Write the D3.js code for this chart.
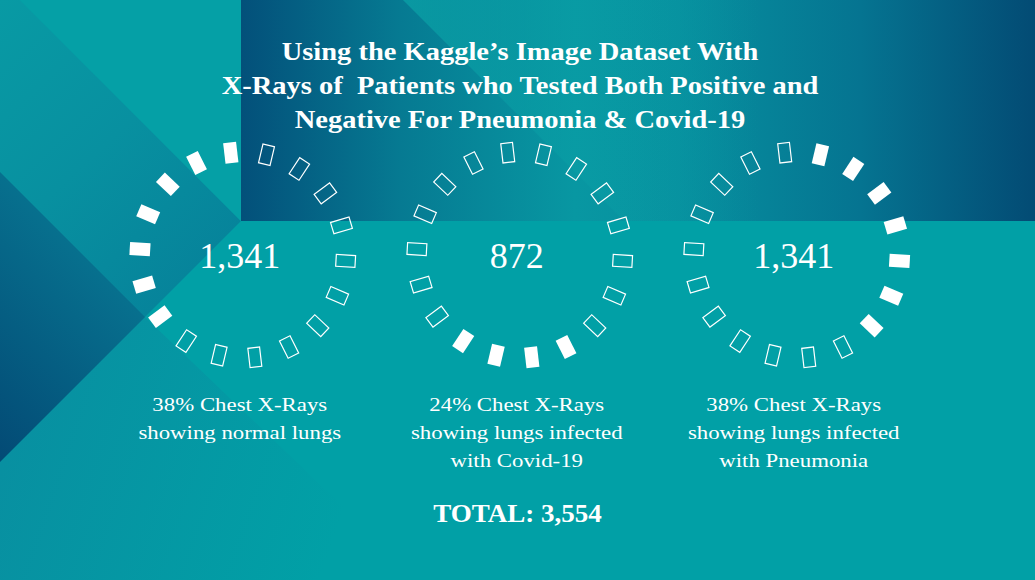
<!DOCTYPE html>
<html><head><meta charset="utf-8">
<script src="https://cdn.jsdelivr.net/npm/d3@7"></script>
<style>html,body{margin:0;padding:0;background:#01a0a6;overflow:hidden;} svg{display:block;} text{white-space:pre;}</style>
</head><body>
<svg id="chart" width="1035" height="580"></svg>
<script>
// ---- data ----
const titleLines = ["Using the Kaggle\u2019s Image Dataset With", "X-Rays of  Patients who Tested Both Positive and", "Negative For Pneumonia & Covid-19"];
const categories = ["Normal", "Covid-19", "Pneumonia"];
const counts = [1341, 872, 1341];
const percents = [38, 24, 38];
const captions = [
  ["38% Chest X-Rays", "showing normal lungs"],
  ["24% Chest X-Rays", "showing lungs infected", "with Covid-19"],
  ["38% Chest X-Rays", "showing lungs infected", "with Pneumonia"]
];
const filledStart = [11, 7, 0];
const segmentsPerRing = 18;

// ---- setup ----
const W = 1035, H = 580;
const svg = d3.select("#chart");
const defs = svg.append("defs");

function linGrad(id, x1, y1, x2, y2, stops) {
  const g = defs.append("linearGradient").attr("id", id).attr("gradientUnits", "userSpaceOnUse")
    .attr("x1", x1).attr("y1", y1).attr("x2", x2).attr("y2", y2);
  stops.forEach(s => g.append("stop").attr("offset", s[0]).attr("stop-color", s[1]).attr("stop-opacity", s[2] == null ? 1 : s[2]));
}
linGrad("gTop", 241, 0, 1035, 0, [[0, "#03507a"], [0.2, "#067a92"], [0.42, "#0897a2"], [0.55, "#07909f"], [0.78, "#057491"], [1, "#034b74"]]);
linGrad("gWedge", 400, 0, 760, 0, [[0, "#0aa2a7", 0.75], [0.5, "#0aa2a7", 0.35], [1, "#0aa2a7", 0]]);
linGrad("gB", 0, 0, 241, 260, [[0, "#089aa4"], [0.5, "#0890a0"], [1, "#06829a"]]);
linGrad("gC", 145, 317, 0, 462, [[0, "#07708e"], [1, "#034a75"]]);
linGrad("gD", 0, 470, 320, 580, [[0, "#0890a1", 1], [1, "#0890a1", 0]]);

const bg = svg.append("g");
bg.append("rect").attr("width", W).attr("height", H).attr("fill", "#01a0a6");
bg.append("polygon").attr("points", "0,462 145,317 420,580 0,580").attr("fill", "url(#gD)");
bg.append("polygon").attr("points", "0,0 20,0 241,221 0,462").attr("fill", "url(#gB)");
bg.append("polygon").attr("points", "20,0 241,0 241,221").attr("fill", "#05a0a6");
bg.append("polygon").attr("points", "0,172 145,317 0,462").attr("fill", "url(#gC)");
bg.append("rect").attr("x", 241).attr("y", 0).attr("width", W - 241).attr("height", 221).attr("fill", "url(#gTop)");
bg.append("polygon").attr("points", "403,0 760,0 760,221 624,221").attr("fill", "url(#gWedge)");

// ---- title ----
const title = svg.append("g").attr("transform", "translate(520,0)");
titleLines.forEach((t, i) => {
  title.append("text")
    .attr("transform", `translate(0,${59.5 + i * 34}) scale(1.14,1)`)
    .attr("text-anchor", "middle")
    .attr("font-family", "'Liberation Serif','Times New Roman',serif")
    .attr("font-weight", "bold").attr("font-size", 25).attr("fill", "#fff")
    .text(t);
});

// ---- rings ----
const x = d3.scalePoint().domain(categories).range([242.8, 796.7]);
const angle = d3.scaleLinear().domain([0, segmentsPerRing]).range([13.3, 373.3]);
const cy = 255, radius = 103;
const segW = 13, segH = 20.5;

categories.forEach((c, ci) => {
  const nFilled = Math.round(percents[ci] / 100 * segmentsPerRing);
  const segs = d3.range(segmentsPerRing).map(k => ({
    k, filled: ((k - filledStart[ci] + segmentsPerRing) % segmentsPerRing) < nFilled
  }));
  const ring = svg.append("g").attr("transform", `translate(${x(c)},${cy})`);
  ring.selectAll("rect").data(segs).enter().append("rect")
    .attr("transform", d => `rotate(${angle(d.k)})`)
    .attr("x", d => d.filled ? -segW / 2 : -segW / 2 + 0.6)
    .attr("y", d => d.filled ? -radius - segH / 2 : -radius - segH / 2 + 0.6)
    .attr("width", d => d.filled ? segW : segW - 1.2)
    .attr("height", d => d.filled ? segH : segH - 1.2)
    .attr("fill", d => d.filled ? "#fff" : "none")
    .attr("stroke", d => d.filled ? "none" : "#fff")
    .attr("stroke-width", 1.2);

  svg.append("text")
    .attr("x", x(c) - 3).attr("y", 267.7)
    .attr("text-anchor", "middle")
    .attr("font-family", "'Liberation Serif','Times New Roman',serif")
    .attr("font-size", 36).attr("fill", "#fff")
    .text(d3.format(",")(counts[ci]));

  captions[ci].forEach((line, li) => {
    svg.append("text")
      .attr("transform", `translate(${x(c) - 3},${410.5 + li * 28}) scale(1.17,1)`)
      .attr("text-anchor", "middle")
      .attr("font-family", "'Liberation Serif','Times New Roman',serif")
      .attr("font-size", 19.5).attr("fill", "#fff")
      .text(line);
  });
});

// ---- total ----
svg.append("text")
  .attr("transform", "translate(517.5,521.5) scale(1.06,1)")
  .attr("text-anchor", "middle")
  .attr("font-family", "'Liberation Serif','Times New Roman',serif")
  .attr("font-weight", "bold").attr("font-size", 25.5).attr("fill", "#fff")
  .text("TOTAL: " + d3.format(",")(d3.sum(counts)));
</script>
</body></html>
